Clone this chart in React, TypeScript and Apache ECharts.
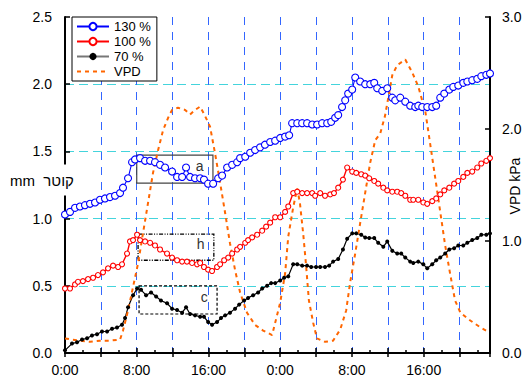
import React, { useEffect, useRef } from 'react';
import * as echarts from 'echarts';

// hours since start, day 1 0:00 = 0
const t130 = [0,0.56,1.12,1.67,2.23,2.79,3.35,3.9,4.46,5.02,5.58,6.14,6.47,7.03,7.48,7.81,8.37,8.93,9.49,10.04,10.6,11.16,11.94,12.5,13.06,13.5,13.95,14.5,15.07,15.5,15.96,16.52,17.08,17.52,18.08,18.64,19.2,19.53,20.1,20.65,21.2,21.76,22.3,22.88,23.44,24,24.55,25,25.33,25.9,26.45,27,27.57,28.12,28.68,29.24,29.69,30.13,30.47,30.9,31.25,31.58,32.03,32.37,32.92,33.48,34.04,34.49,34.82,35.38,35.94,36.5,36.83,37.39,37.95,38.5,39.06,39.4,39.84,40.4,40.96,41.4,41.85,42.3,42.86,43.3,43.86,44.42,44.87,45.42,45.98,46.43,46.99,47.4];
const v130 = [1.03,1.05,1.08,1.09,1.10,1.11,1.12,1.14,1.15,1.16,1.17,1.19,1.23,1.30,1.42,1.44,1.45,1.43,1.43,1.42,1.40,1.38,1.35,1.31,1.31,1.38,1.31,1.30,1.30,1.29,1.26,1.26,1.30,1.32,1.38,1.40,1.42,1.45,1.46,1.49,1.51,1.53,1.55,1.57,1.58,1.60,1.61,1.62,1.71,1.71,1.71,1.71,1.70,1.70,1.71,1.71,1.72,1.75,1.77,1.83,1.88,1.93,1.96,2.05,2.02,2.00,2.00,2.01,1.97,1.95,1.97,1.90,1.88,1.90,1.87,1.84,1.83,1.84,1.83,1.83,1.83,1.84,1.90,1.93,1.96,1.98,1.99,2.01,2.02,2.03,2.04,2.06,2.07,2.08];

const t100 = [0,0.56,1.12,1.45,2.0,2.57,3.13,3.68,4.24,4.8,5.36,5.92,6.36,6.92,7.25,7.59,8.04,8.37,8.93,9.49,10.04,10.6,11.38,11.94,12.5,13.06,13.6,14.17,14.73,15.07,15.5,15.96,16.4,16.96,17.3,17.75,18.2,18.64,19.2,19.53,20.1,20.42,20.87,21.43,21.99,22.43,22.88,23.44,24.0,24.55,24.9,25.45,25.9,26.45,27.0,27.57,27.9,28.46,29.0,29.58,30.0,30.47,31.0,31.47,32.03,32.48,33.04,33.48,33.93,34.49,34.93,35.5,35.94,36.5,37.05,37.5,37.95,38.5,38.84,39.4,39.96,40.4,40.96,41.4,41.85,42.3,42.86,43.4,43.86,44.42,44.87,45.42,45.98,46.43,46.99,47.4];
const v100 = [0.48,0.48,0.51,0.53,0.535,0.55,0.56,0.58,0.60,0.63,0.65,0.64,0.66,0.74,0.83,0.84,0.88,0.84,0.83,0.82,0.80,0.77,0.74,0.71,0.69,0.68,0.68,0.67,0.66,0.67,0.64,0.62,0.61,0.64,0.66,0.69,0.71,0.74,0.77,0.79,0.82,0.84,0.86,0.88,0.91,0.94,0.97,1.01,1.01,1.05,1.09,1.19,1.20,1.19,1.19,1.19,1.17,1.19,1.17,1.18,1.19,1.23,1.29,1.38,1.35,1.34,1.33,1.32,1.30,1.28,1.26,1.23,1.21,1.20,1.20,1.19,1.17,1.14,1.14,1.14,1.12,1.11,1.13,1.15,1.18,1.21,1.23,1.26,1.28,1.31,1.34,1.35,1.38,1.41,1.43,1.45];

const t70 = [0,0.78,1.34,1.9,2.46,3.01,3.57,4.13,4.69,5.25,5.8,6.36,6.7,7.03,7.59,8.04,8.48,9.04,9.6,10.16,10.7,11.38,11.94,12.5,13.06,13.5,13.95,14.5,15.07,15.5,15.96,16.4,16.96,17.4,17.86,18.4,18.97,19.42,19.98,20.42,20.98,21.54,21.99,22.54,22.99,23.44,24.0,24.44,24.9,25.45,25.9,26.45,27.0,27.46,28.0,28.46,29.0,29.46,29.9,30.47,31.0,31.47,32.03,32.48,33.04,33.48,33.93,34.49,34.93,35.5,35.94,36.5,37.05,37.5,37.95,38.5,38.84,39.4,39.96,40.4,40.96,41.4,41.85,42.4,42.86,43.4,43.86,44.42,44.87,45.42,45.98,46.43,46.99,47.4];
const v70 = [0.02,0.07,0.08,0.10,0.11,0.13,0.14,0.16,0.16,0.18,0.19,0.21,0.26,0.34,0.43,0.48,0.47,0.43,0.45,0.42,0.39,0.37,0.33,0.32,0.30,0.34,0.29,0.28,0.27,0.27,0.23,0.21,0.23,0.26,0.28,0.30,0.33,0.36,0.39,0.41,0.43,0.45,0.48,0.50,0.52,0.52,0.54,0.56,0.57,0.66,0.66,0.65,0.65,0.64,0.64,0.64,0.64,0.65,0.68,0.70,0.77,0.85,0.89,0.89,0.88,0.86,0.855,0.855,0.82,0.79,0.83,0.76,0.74,0.74,0.71,0.68,0.67,0.68,0.66,0.63,0.66,0.69,0.71,0.74,0.77,0.78,0.80,0.80,0.82,0.84,0.855,0.88,0.88,0.89];

const tVpd = [0,0.78,1.67,2.79,3.9,5.0,6.14,6.47,7.03,7.59,8.15,8.7,9.26,9.82,10.38,10.94,11.5,11.94,12.6,13.4,13.95,14.5,15.07,15.6,16.18,16.74,17.3,17.86,18.4,18.97,19.53,20.3,21.2,22.1,23.1,23.44,24.0,24.55,24.9,25.45,25.9,26.2,26.56,26.9,27.2,27.68,28.1,29.0,29.9,30.7,31.36,31.8,32.37,32.92,33.48,34.04,34.6,35.16,35.7,36.5,37.05,37.95,38.7,39.4,40.2,40.74,41.3,41.85,42.4,42.97,43.5,44.1,45.2,46.3,47.2];
const vVpd = [0.13,0.12,0.11,0.10,0.11,0.11,0.12,0.20,0.38,0.59,0.80,1.07,1.34,1.61,1.81,1.99,2.10,2.17,2.19,2.17,2.13,2.17,2.20,2.12,2.02,1.78,1.52,1.25,0.98,0.74,0.54,0.36,0.25,0.20,0.16,0.27,0.45,0.71,1.04,1.30,1.47,1.34,1.07,0.77,0.47,0.27,0.13,0.10,0.11,0.21,0.38,0.63,0.89,1.16,1.43,1.70,1.90,1.96,2.12,2.48,2.57,2.62,2.51,2.38,2.15,1.86,1.56,1.26,0.96,0.70,0.47,0.36,0.29,0.23,0.19];

const xTicks = ['0:00', '8:00', '16:00'];

const FONT = '"Liberation Sans", Arial, sans-serif';
const zip = (t: number[], v: number[]) => t.map((x, i) => [x, v[i]]);

export default function App() {
  const ref = useRef<HTMLDivElement>(null);
  useEffect(() => {
    if (!ref.current) return;
    const chart = echarts.init(ref.current, undefined, { renderer: 'svg' });
    const boxLabel = {
      show: true,
      position: 'insideRight',
      distance: 10,
      offset: [0, -3],
      fontSize: 14,
      color: '#333',
      fontFamily: FONT,
      formatter: (p: any) => p.name,
    };
    chart.setOption({
      animation: false,
      backgroundColor: '#fff',
      textStyle: { fontFamily: FONT },
      grid: { left: 65, right: 35, top: 17, bottom: 25, containLabel: false },
      legend: {
        orient: 'vertical',
        left: 72,
        top: 17,
        backgroundColor: '#fff',
        borderColor: '#000',
        borderWidth: 1,
        borderRadius: 0,
        padding: [3, 6, 3, 4],
        itemGap: 2,
        itemWidth: 32,
        itemHeight: 9,
        textStyle: { fontSize: 13, color: '#000', fontFamily: FONT },
        data: [
          { name: '130 %' },
          { name: '100 %' },
          { name: '70 %', lineStyle: { color: '#777' } },
          { name: 'VPD', itemStyle: { opacity: 0 } },
        ],
      },
      xAxis: [
        {
          type: 'value',
          min: 0,
          max: 47.4,
          interval: 4,
          axisLine: { show: true, onZero: false, lineStyle: { color: '#000', width: 2 } },
          axisTick: { show: true, inside: true, length: 5, lineStyle: { color: '#000', width: 1.5 } },
          minorTick: { show: true, splitNumber: 2, length: 3, lineStyle: { color: '#000', width: 1.5 } },
          axisLabel: {
            margin: 10,
            fontSize: 14,
            color: '#000',
            fontFamily: FONT,
            showMaxLabel: false,
            formatter: (v: number) => (Math.abs(v % 8) < 1e-6 ? xTicks[(v % 24) / 8] : ''),
          },
          splitLine: {
            show: true,
            showMinLine: false,
            showMaxLine: false,
            lineStyle: { color: '#3366ff', type: [8, 7], width: 1 },
          },
        },
        {
          type: 'value',
          position: 'bottom',
          min: 0,
          max: 47.4,
          interval: 4,
          axisLine: { show: false },
          axisTick: { show: true, inside: false, length: 4, lineStyle: { color: '#000', width: 1.5 } },
          axisLabel: { show: false },
          splitLine: { show: false },
        },
        {
          type: 'value',
          position: 'top',
          min: 0,
          max: 47.4,
          z: 5,
          axisLine: { show: true, lineStyle: { color: '#000', width: 1.5 } },
          axisTick: { show: false },
          axisLabel: { show: false },
          splitLine: { show: false },
        },
      ],
      yAxis: [
        {
          type: 'value',
          min: 0,
          max: 2.5,
          interval: 0.5,
          position: 'left',
          axisLine: { show: true, onZero: false, lineStyle: { color: '#000', width: 2 } },
          axisTick: { show: true, inside: true, length: 5, lineStyle: { color: '#000', width: 1.5 } },
          axisLabel: {
            margin: 13,
            fontSize: 14,
            color: '#000',
            fontFamily: FONT,
            formatter: (v: number) => v.toFixed(1),
          },
          splitLine: {
            show: true,
            showMinLine: false,
            showMaxLine: false,
            lineStyle: { color: '#44d4dc', type: [9, 5], width: 1 },
          },
        },
        {
          type: 'value',
          min: 0,
          max: 3,
          interval: 1,
          position: 'right',
          axisLine: { show: true, onZero: false, lineStyle: { color: '#000', width: 2 } },
          axisTick: { show: true, inside: true, length: 5, lineStyle: { color: '#000', width: 1.5 } },
          axisLabel: {
            margin: 12,
            fontSize: 14,
            color: '#000',
            fontFamily: FONT,
            formatter: (v: number) => v.toFixed(1),
          },
          splitLine: { show: false },
        },
      ],
      series: [
        {
          name: '130 %',
          type: 'line',
          data: zip(t130, v130),
          symbol: 'circle',
          symbolSize: 7,
          color: '#0000ff',
          itemStyle: { color: '#fff', borderColor: '#0000ff', borderWidth: 1.1 },
          lineStyle: { color: '#0000ff', width: 1.1 },
          markArea: {
            silent: true,
            itemStyle: { color: 'rgba(0,0,0,0)', borderColor: '#444', borderWidth: 1.2, borderType: 'solid' },
            label: boxLabel,
            data: [[{ name: 'a', xAxis: 8.0, yAxis: 1.472 }, { xAxis: 16.5, yAxis: 1.264 }]],
          },
        },
        {
          name: '100 %',
          type: 'line',
          data: zip(t100, v100),
          symbol: 'circle',
          symbolSize: 5,
          color: '#ff0000',
          itemStyle: { color: '#fff', borderColor: '#ff0000', borderWidth: 1.1 },
          lineStyle: { color: '#ff0000', width: 1.4 },
          markArea: {
            silent: true,
            itemStyle: { color: 'rgba(0,0,0,0)', borderColor: '#000', borderWidth: 1.3, borderType: [4, 1.5, 1, 1.5, 1, 1.5] },
            label: boxLabel,
            data: [[{ name: 'h', xAxis: 8.15, yAxis: 0.885 }, { xAxis: 16.6, yAxis: 0.69 }]],
          },
        },
        {
          name: '70 %',
          type: 'line',
          data: zip(t70, v70),
          symbol: 'circle',
          symbolSize: 4,
          color: '#000',
          itemStyle: { color: '#000' },
          lineStyle: { color: '#000', width: 1.2 },
          markArea: {
            silent: true,
            itemStyle: { color: 'rgba(0,0,0,0)', borderColor: '#000', borderWidth: 1.2, borderType: [3, 2] },
            label: boxLabel,
            data: [[{ name: 'c', xAxis: 8.26, yAxis: 0.50 }, { xAxis: 16.96, yAxis: 0.29 }]],
          },
        },
        {
          name: 'VPD',
          type: 'line',
          yAxisIndex: 1,
          data: zip(tVpd, vVpd),
          symbol: 'none',
          showSymbol: false,
          color: '#ff6600',
          lineStyle: { color: '#ff6600', width: 2, type: [4, 4] },
        },
      ],
      graphic: [
        {
          type: 'text',
          x: 8,
          y: 180,
          z: 100,
          style: {
            text: 'mm\u00a0 קוטר',
            font: `15px ${FONT}`,
            fill: '#000',
            align: 'left',
            verticalAlign: 'middle',
            backgroundColor: '#fff',
            padding: [8, 3, 8, 2],
          },
        },
        {
          type: 'text',
          x: 515,
          y: 186,
          rotation: Math.PI / 2,
          z: 100,
          style: {
            text: 'VPD kPa',
            font: `14px ${FONT}`,
            fill: '#000',
            align: 'center',
            verticalAlign: 'middle',
          },
        },
      ],
    });
    return () => chart.dispose();
  }, []);
  return (
    <div
      ref={ref}
      style={{ position: 'fixed', left: 0, top: 0, width: 525, height: 378 }}
    />
  );
}
